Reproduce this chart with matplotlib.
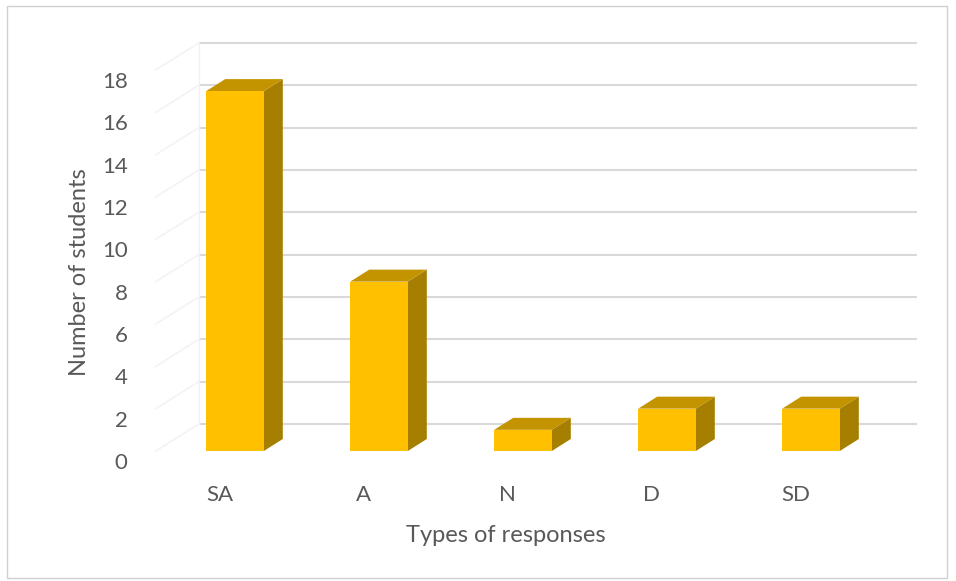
import matplotlib.pyplot as plt
from matplotlib.patches import Polygon, Rectangle

# data
categories = ["SA", "A", "N", "D", "SD"]
students = [17, 8, 1, 2, 2]
y_ticks = [0, 2, 4, 6, 8, 10, 12, 14, 16, 18]

# colours (Excel-like gold 3D columns)
c_front = "#FFC000"
c_top = "#C39300"
c_side = "#A67E00"
c_grid = "#D9D9D9"
c_text = "#595959"

W, H = 956, 581
fig = plt.figure(figsize=(W / 100, H / 100), dpi=100)
plt.rcParams['font.family'] = ['Lato', 'DejaVu Sans']

# pixel scale of the front plane (category units / value units)
px_cat = 144.0
px_val = 21.17
x0_px, y0_px = 235.0, 451.0
xlim = (-0.8, 4.8)
ylim = (-4.0, 20.0)
left = x0_px + xlim[0] * px_cat
right = x0_px + xlim[1] * px_cat
bottom = y0_px - ylim[0] * px_val
top = y0_px - ylim[1] * px_val
ax = fig.add_axes([left / W, 1 - bottom / H, (right - left) / W, (bottom - top) / H])
ax.set_xlim(*xlim)
ax.set_ylim(*ylim)
ax.axis("off")

# 3D geometry
half_w = 0.2
bar_dx, bar_dy = 19 / px_cat, 12 / px_val
wall_dx, wall_dy = 43 / px_cat, 27 / px_val
floor_x0, floor_x1 = -0.55, 4.44

# back wall gridlines + faint side wall
for v in y_ticks:
    ax.plot([floor_x0 + wall_dx, floor_x1 + wall_dx], [v + wall_dy, v + wall_dy],
            color=c_grid, lw=1.5, zorder=1, solid_capstyle="butt")
    ax.plot([floor_x0, floor_x0 + wall_dx], [v, v + wall_dy],
            color="#F2F3F6", lw=1.2, zorder=1)
ax.plot([floor_x0 + wall_dx] * 2, [wall_dy, y_ticks[-1] + wall_dy],
        color="#F0F1F4", lw=1.0, zorder=1)

# bars
for i, v in enumerate(students):
    xl, xr = i - half_w, i + half_w
    side = [(xr, 0), (xr + bar_dx, bar_dy), (xr + bar_dx, v + bar_dy), (xr, v)]
    topf = [(xl, v), (xr, v), (xr + bar_dx, v + bar_dy), (xl + bar_dx, v + bar_dy)]
    ax.add_patch(Polygon(side, closed=True, fc=c_side, ec="none", zorder=3))
    ax.add_patch(Polygon(topf, closed=True, fc=c_top, ec="none", zorder=3))
    ax.add_patch(Rectangle((xl, 0), 2 * half_w, v, fc=c_front, ec="none", zorder=4))

# tick labels
for v in y_ticks:
    ax.text(-0.745, v - 0.57, str(v), ha="right", va="center",
            fontsize=16, color=c_text)
for i, c in enumerate(categories):
    ax.text(i - 0.105, -2.08, c, ha="center", va="center", fontsize=16, color=c_text)

# axis titles
fig.text(80 / W, 1 - 272 / H, "Number of students", rotation=90,
         ha="center", va="center", fontsize=17, color=c_text)
fig.text(506 / W, 1 - 535 / H, "Types of responses",
         ha="center", va="center", fontsize=17, color=c_text)

# chart border
fig.patches.append(Rectangle((7 / W, 1 - 578 / H), 940 / W, 572 / H,
                             transform=fig.transFigure, fill=False,
                             ec="#D0D0D0", lw=1.0))

fig.savefig("out.png", dpi=100)
